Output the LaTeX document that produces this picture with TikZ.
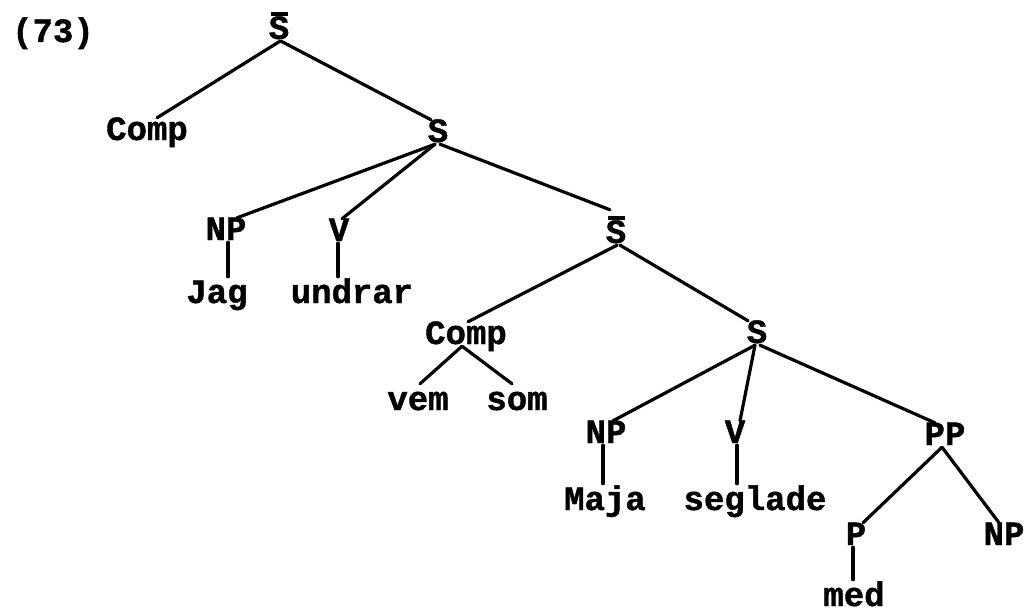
\documentclass[tikz,border=0pt]{standalone}
\usepackage{fontspec}
\setmainfont{Liberation Mono}[BoldFeatures={FakeBold=1.2}]
\newcommand{\Sbar}{\ooalign{S\cr\hidewidth\raisebox{23pt}{\rule{17pt}{3.6pt}}\hidewidth\cr}}
\begin{document}
\begin{tikzpicture}[x=1pt,y=-1pt,
  lab/.style={anchor=base,inner sep=2pt,text height=20pt,text depth=0pt,
    font=\fontsize{34}{40}\selectfont\bfseries},
  leaf/.style={lab,text height=24pt},
  barlab/.style={lab,text height=31pt},
  edge/.style={draw,line width=3.2pt,line cap=round}]
\useasboundingbox (0,0) rectangle (1024,615);
% nodes
\node[lab] (num) at (53,42) {(73)};
\node[barlab] (sb1) at (279,39) {\Sbar};
\node[lab] (comp1) at (147,140) {Comp};
\node[lab] (s2) at (438,142) {S};
\node[lab] (np1) at (226,240) {NP};
\node[lab] (v1) at (339,241) {V};
\node[barlab] (sb3) at (616,243) {\Sbar};
\node[leaf] (jag) at (217,303) {Jag};
\node[leaf] (undrar) at (352,303) {undrar};
\node[lab] (comp4) at (466,344) {Comp};
\node[lab] (s4) at (757,343) {S};
\node[leaf] (vem) at (418,410) {vem};
\node[leaf] (som) at (517,410) {som};
\node[lab] (np2) at (606,443) {NP};
\node[lab] (v2) at (735,443) {V};
\node[lab] (pp) at (945,445) {PP};
\node[leaf] (maja) at (605,510) {Maja};
\node[leaf] (seglade) at (755,510) {seglade};
\node[lab] (p) at (856,545) {P};
\node[lab] (np3) at (1004,545) {NP};
\node[leaf] (med) at (854,606) {med};
% edges
\draw[edge] ([xshift=1pt]sb1.south) -- ([xshift=10pt]comp1.north);
\draw[edge] ([xshift=2pt]sb1.south) -- ([xshift=-7pt]s2.north);
\draw[edge] ([xshift=-3pt]s2.south) -- ([xshift=11pt]np1.north);
\draw[edge] ([xshift=-3pt]s2.south) -- ([xshift=3pt]v1.north);
\draw[edge] ([xshift=2pt]s2.south) -- ([xshift=-6pt]sb3.north);
\draw[edge] ([xshift=2pt]np1.south) -- ([xshift=2pt]np1.south |- jag.north);
\draw[edge] ([xshift=-1pt]v1.south) -- ([xshift=-1pt]v1.south |- undrar.north);
\draw[edge] ([xshift=1pt]sb3.south) -- ([xshift=2pt]comp4.north);
\draw[edge] ([xshift=4pt]sb3.south) -- ([xshift=-9pt]s4.north);
\draw[edge] ([xshift=-4pt]comp4.south) -- ([xshift=2pt]vem.north);
\draw[edge] ([xshift=-4pt]comp4.south) -- ([xshift=-5pt]som.north);
\draw[edge] ([xshift=-2pt]s4.south) -- ([xshift=7pt]np2.north);
\draw[edge] ([xshift=-2pt]s4.south) -- ([xshift=5pt]v2.north);
\draw[edge] ([xshift=3pt]s4.south) -- ([xshift=-10pt]pp.north);
\draw[edge] ([xshift=-3pt]np2.south) -- ([xshift=-3pt]np2.south |- maja.north);
\draw[edge] ([xshift=2pt]v2.south) -- ([xshift=2pt]v2.south |- seglade.north);
\draw[edge] ([xshift=-3pt]pp.south) -- ([xshift=7pt]p.north);
\draw[edge] ([xshift=-3pt]pp.south) -- ([xshift=-5pt]np3.north);
\draw[edge] ([xshift=-3pt]p.south) -- ([xshift=-3pt]p.south |- med.north);
\end{tikzpicture}
\end{document}
